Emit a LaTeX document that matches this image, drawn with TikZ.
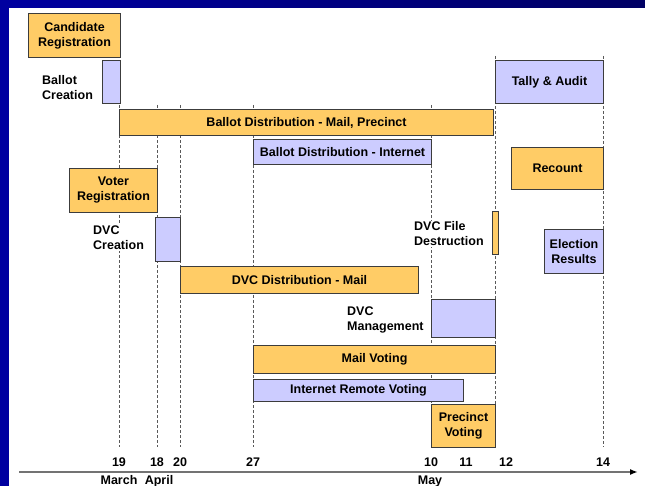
\documentclass[tikz,border=0pt]{standalone}
\usepackage{fontspec}
\setmainfont{Liberation Sans}
\usetikzlibrary{arrows.meta}
\definecolor{barorange}{HTML}{FFCC66}
\definecolor{barblue}{HTML}{CCCCFF}
\definecolor{barline}{HTML}{3C3C3C}
\definecolor{framel}{HTML}{0000A0}
\definecolor{framer}{HTML}{000064}
\begin{document}
\begin{tikzpicture}[x=1pt,y=-1pt,>={Latex[length=8pt,width=6pt,color=black]},
                     every node/.style={font=\fontsize{12.5}{15}\selectfont\bfseries},
                     bar/.style={draw=barline,line width=1pt,inner sep=0pt,
                                 anchor=north west,align=center},
                     orangebar/.style={bar,fill=barorange},
                     bluebar/.style={bar,fill=barblue},
                     side/.style={anchor=west,align=left,fill=white,inner xsep=2pt,inner ysep=1pt},
                     dayline/.style={draw=black!65,line width=0.8pt,dash pattern=on 3pt off 2pt}]
                     \useasboundingbox (0,0) rectangle (645,486);
                     % slide frame
                     \shade[left color=framel,right color=framer] (0,0) rectangle (645,8);
                     \fill[framel] (0,0) rectangle (9,486);
                     % day lines
                     \foreach \x in {119,157,180,253,431}{
                       \draw[dayline] (\x,105) -- (\x,447);
                     }
                     \foreach \x in {495,603}{
                       \draw[dayline] (\x,56) -- (\x,447);
                     }
                     % bars
                     \node[orangebar,minimum width=92pt,minimum height=44pt] (candreg) at (28,13) {Candidate\\Registration};
                     \node[bluebar,minimum width=18pt,minimum height=43pt] (balcreate) at (102,60) {};
                     \node[side] (balcreatelbl) at (40,88) {Ballot\\Creation};
                     \node[orangebar,minimum width=374pt,minimum height=26pt] (balmail) at (119,109) {Ballot Distribution - Mail, Precinct};
                     \node[bluebar,minimum width=178pt,minimum height=25pt] (balnet) at (253,139) {Ballot Distribution - Internet};
                     \node[bluebar,minimum width=108pt,minimum height=43pt] (tally) at (495,60) {Tally \& Audit};
                     \node[orangebar,minimum width=92pt,minimum height=42pt] (recount) at (511,147) {Recount};
                     \node[orangebar,minimum width=88pt,minimum height=44pt] (voterreg) at (69,168) {Voter\\Registration};
                     \node[bluebar,minimum width=25pt,minimum height=44pt] (dvccreate) at (155,217) {};
                     \node[side] (dvccreatelbl) at (91,238) {DVC\\Creation};
                     \node[orangebar,minimum width=238pt,minimum height=27pt] (dvcdist) at (180,266) {DVC Distribution - Mail};
                     \node[orangebar,minimum width=6pt,minimum height=43pt] (dvcdestroy) at (492,211) {};
                     \node[side] (dvcdestroylbl) at (412,234) {DVC File\\Destruction};
                     \node[bluebar,minimum width=59pt,minimum height=44pt] (results) at (544,229) {Election\\Results};
                     \node[bluebar,minimum width=64pt,minimum height=38pt] (dvcman) at (431,299) {};
                     \node[side] (dvcmanlbl) at (345,320) {DVC\\Management};
                     \node[orangebar,minimum width=242pt,minimum height=28pt] (mailvote) at (253,345) {Mail Voting};
                     \node[bluebar,minimum width=210pt,minimum height=22pt] (netvote) at (253,379) {Internet Remote Voting};
                     \node[orangebar,minimum width=64pt,minimum height=43pt] (precvote) at (431,404) {Precinct\\Voting};
                     % time axis
                     \coordinate (axisL) at (19,472);
                     \coordinate (axisR) at (638,472);
                     \draw[->,draw=black!55,line width=2pt] (axisL) -- (axisR);
                     \foreach \x/\d in {119/19,157/18,180/20,253/27,431/10,466/11,506/12,603/14}{
                       \node[anchor=base] (day\d) at (\x,466) {\d};
                     }
                     \node[anchor=base] (march) at (119,484) {March};
                     \node[anchor=base] (april) at (159,484) {April};
                     \node[anchor=base] (may) at (430,484) {May};
                   \end{tikzpicture}
\end{document}
